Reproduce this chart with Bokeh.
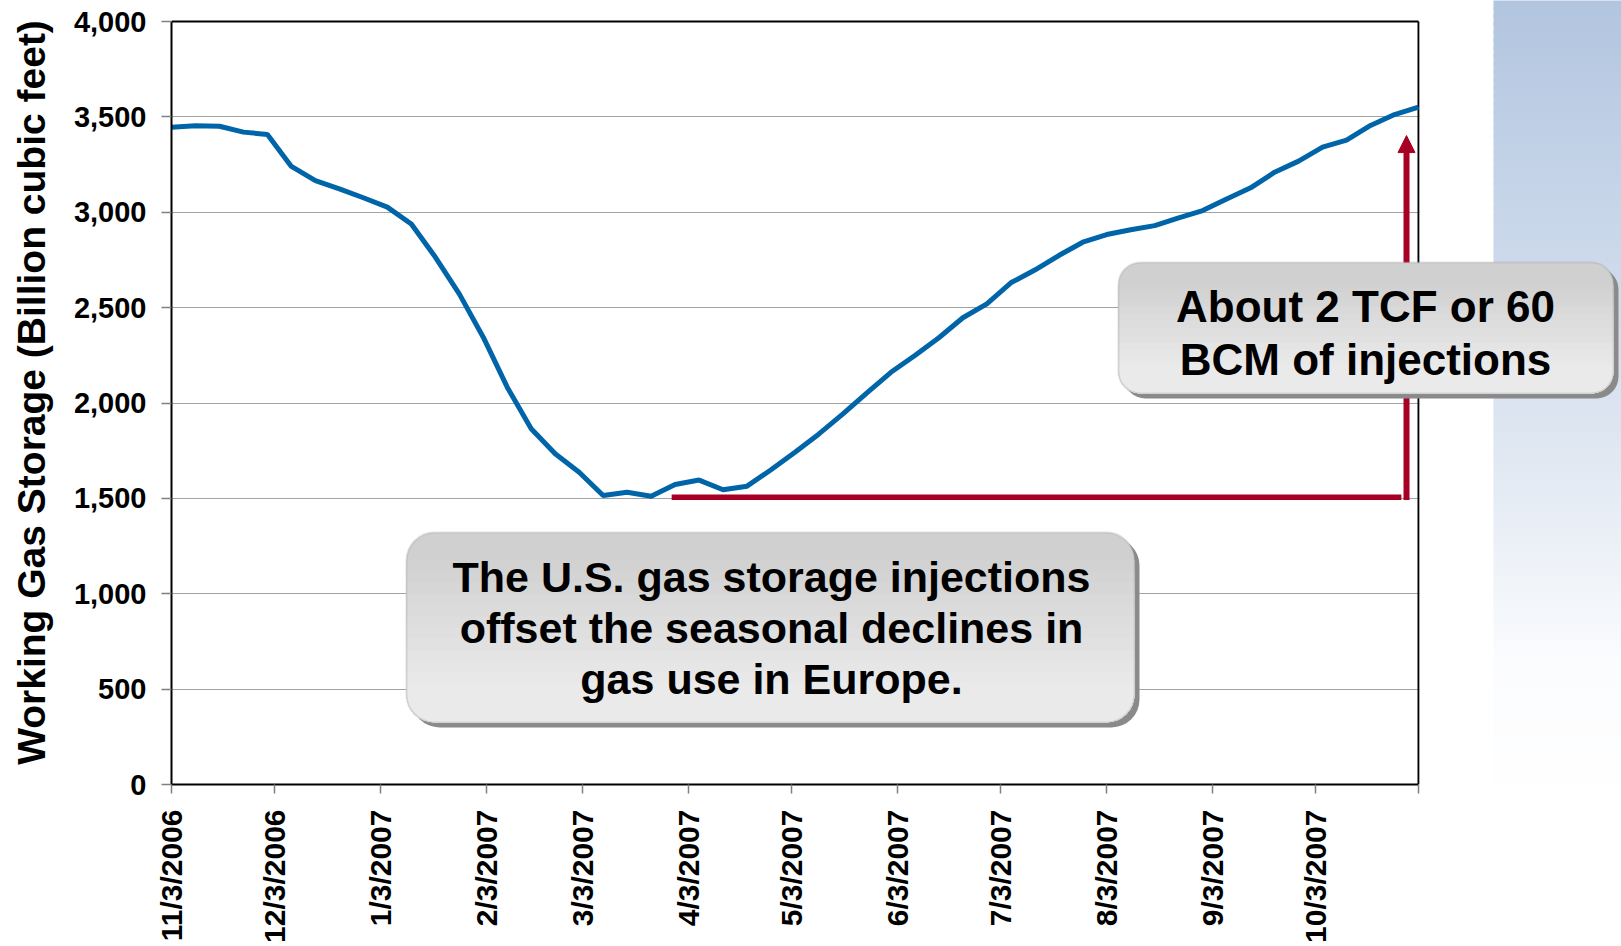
import math
import pandas as pd
from bokeh.plotting import figure
from bokeh.models import (Range1d, FixedTicker, NumeralTickFormatter,
                          BoxAnnotation, Label, Arrow, NormalHead)
from bokeh.embed import file_html
from bokeh.resources import INLINE

# ---------------- data ----------------
week_start = "2006-11-03"
storage_bcf = [3446, 3453, 3451, 3420, 3408, 3240, 3166, 3123, 3076, 3027,
               2938, 2765, 2572, 2345, 2083, 1865, 1734, 1637, 1515, 1532,
               1511, 1573, 1596, 1545, 1564, 1650, 1742, 1838, 1943, 2053,
               2161, 2249, 2342, 2447, 2520, 2630, 2697, 2773, 2843, 2883,
               2908, 2930, 2971, 3009, 3070, 3128, 3210, 3268, 3341, 3378,
               3455, 3512, 3551]
tick_dates = ["2006-11-03", "2006-12-03", "2007-01-03", "2007-02-03", "2007-03-03",
              "2007-04-03", "2007-05-03", "2007-06-03", "2007-07-03", "2007-08-03",
              "2007-09-03", "2007-10-03"]
tick_labels = ["11/3/2006", "12/3/2006", "1/3/2007", "2/3/2007", "3/3/2007",
               "4/3/2007", "5/3/2007", "6/3/2007", "7/3/2007", "8/3/2007",
               "9/3/2007", "10/3/2007"]
y_ticks = [0, 500, 1000, 1500, 2000, 2500, 3000, 3500, 4000]
y_min, y_max = 0, 4000
y_label = "Working Gas Storage (Billion cubic feet)"

injection_base = 1506
injection_top = 3402
base_line_start = "2007-03-29"
base_line_end = "2007-10-28"
arrow_date = "2007-10-29 12:00"

note_right = ["About 2 TCF or 60", "BCM of injections"]
note_left = ["The U.S. gas storage injections", "offset the seasonal declines in",
             "gas use in Europe."]

BLUE = "#0064A8"
RED = "#A80024"

# ---------------- helpers ----------------
dates = pd.date_range(week_start, periods=len(storage_bcf), freq="7D")


def ms(t):
    return pd.Timestamp(t).value / 1e6


x0 = ms(dates[0])
x1 = ms(dates[-1])

# pixel geometry of the chart area (used to place frame & annotations)
W, H = 1621, 946
FL, FR, FT, FB = 171, 1418, 21, 784


def dx(px):
    return x0 + (px - FL) / (FR - FL) * (x1 - x0)


def dy(py):
    return y_min + (FB - py) / (FB - FT) * (y_max - y_min)


def lerp(c0, c1, f):
    f = max(0.0, min(1.0, f))
    return "#%02x%02x%02x" % tuple(int(round(a + (b - a) * f)) for a, b in zip(c0, c1))


# ---------------- figure ----------------
# the frame reaches the right and top edge of the canvas so that the callout
# and the slide background can be drawn there; axes are bounded to the data box
p = figure(width=W, height=H, x_axis_type="datetime",
           x_range=Range1d(x0, dx(W)), y_range=Range1d(y_min, dy(0)),
           output_backend="svg", toolbar_location=None,
           min_border_left=FL, min_border_right=0,
           min_border_top=0, min_border_bottom=H - FB)
p.background_fill_color = "white"
p.border_fill_color = "white"
p.outline_line_color = None

FONT = "Liberation Sans"

# x axis
tick_ms = [ms(d) for d in tick_dates]
p.xaxis.bounds = (x0, x1)
p.xaxis.ticker = FixedTicker(ticks=tick_ms + [x1])
overrides = {t: lab for t, lab in zip(tick_ms, tick_labels)}
overrides[x1] = ""
p.xaxis.major_label_overrides = overrides
p.xaxis.major_label_orientation = math.pi / 2
p.xaxis.major_label_text_font = FONT
p.xaxis.major_label_text_font_style = "bold"
p.xaxis.major_label_text_font_size = "30px"
p.xaxis.major_label_text_color = "black"
p.xaxis.major_label_standoff = 16
p.xaxis.major_tick_out = 9
p.xaxis.major_tick_in = 0
p.xaxis.major_tick_line_color = "#808080"
p.xaxis.major_tick_line_width = 1.5
p.xaxis.minor_tick_line_color = None
p.xaxis.axis_line_color = "black"
p.xaxis.axis_line_width = 2

# y axis
p.yaxis.bounds = (y_min, y_max)
p.yaxis.ticker = FixedTicker(ticks=y_ticks)
p.yaxis.formatter = NumeralTickFormatter(format="0,0")
p.yaxis.major_label_text_font = FONT
p.yaxis.major_label_text_font_style = "bold"
p.yaxis.major_label_text_font_size = "29px"
p.yaxis.major_label_text_color = "black"
p.yaxis.major_label_standoff = 15
p.yaxis.major_tick_out = 10
p.yaxis.major_tick_in = 0
p.yaxis.major_tick_line_color = "#808080"
p.yaxis.major_tick_line_width = 1.5
p.yaxis.minor_tick_line_color = None
p.yaxis.axis_line_color = "black"
p.yaxis.axis_line_width = 2
p.yaxis.axis_label = y_label
p.yaxis.axis_label_text_font = FONT
p.yaxis.axis_label_text_font_style = "bold"
p.yaxis.axis_label_text_font_size = "39px"
p.yaxis.axis_label_text_color = "black"
p.yaxis.axis_label_standoff = 18

p.xgrid.grid_line_color = None
p.ygrid.ticker = FixedTicker(ticks=y_ticks[1:-1])
p.ygrid.grid_line_color = "#a3a3a3"
p.ygrid.grid_line_width = 1

# top and right edges of the plot box
p.segment(x0=[x0, x1], y0=[y_max, y_min], x1=[x1, x1], y1=[y_max, y_max],
          line_color="black", line_width=2)

# ---------------- data line ----------------
p.line(dates, storage_bcf, line_color=BLUE, line_width=5)

# ---------------- injection marker ----------------
p.segment(x0=[pd.Timestamp(base_line_start)], x1=[pd.Timestamp(base_line_end)],
          y0=[injection_base], y1=[injection_base], line_color=RED, line_width=5.5,
          line_cap="butt")

# white area right of the plot box
p.add_layout(BoxAnnotation(left=dx(FR + 1.2), right=dx(W + 50), top=dy(-50),
                           bottom=dy(H + 50), fill_color="white", fill_alpha=1,
                           line_color=None))

# slide background gradient on the far right
stops = [(0, (178, 197, 223)), (200, (199, 213, 233)), (420, (221, 229, 241)),
         (560, (238, 242, 248)), (660, (251, 252, 254)), (800, (255, 255, 255))]
band = 8
for yy in range(0, 800, band):
    for (ya, ca), (yb, cb) in zip(stops[:-1], stops[1:]):
        if ya <= yy < yb:
            c = lerp(ca, cb, (yy - ya) / (yb - ya))
            break
    p.add_layout(BoxAnnotation(left=dx(1493), right=dx(W + 50), top=dy(yy - 1),
                               bottom=dy(yy + band + 1), fill_color=c, fill_alpha=1,
                               line_color=None))

p.add_layout(Arrow(end=NormalHead(size=17, fill_color=RED, line_color=RED, line_width=1),
                   x_start=ms(arrow_date), y_start=injection_base - 14,
                   x_end=ms(arrow_date), y_end=injection_top,
                   line_color=RED, line_width=6))


# ---------------- callout boxes ----------------
def callout(l, t, r, b, rad, shadow=(5, 5)):
    p.add_layout(BoxAnnotation(left=dx(l + shadow[0]), right=dx(r + shadow[0]),
                               top=dy(t + shadow[1]), bottom=dy(b + shadow[1]),
                               fill_color="#8a8a8a", fill_alpha=1, line_color=None,
                               border_radius=rad))
    c_top = (208, 208, 208)
    c_bot = (234, 234, 234)
    p.add_layout(BoxAnnotation(left=dx(l), right=dx(r), top=dy(t), bottom=dy(b),
                               fill_color=lerp(c_top, c_bot, 0), fill_alpha=1,
                               line_color=None, border_radius=rad))
    n = 12
    ys, ye = t + rad, b - rad
    for i in range(n):
        yi = ys + (ye - ys) * i / n
        p.add_layout(BoxAnnotation(left=dx(l), right=dx(r), top=dy(yi), bottom=dy(b),
                                   fill_color=lerp(c_top, c_bot, (i + 1) / n),
                                   fill_alpha=1, line_color=None,
                                   border_radius=(0, 0, rad, rad)))
    p.add_layout(BoxAnnotation(left=dx(l), right=dx(r), top=dy(t), bottom=dy(b),
                               fill_alpha=0, line_color="#a0a0a0", line_width=2,
                               border_radius=rad))


callout(1118, 262, 1613, 393, 22)
callout(406, 532, 1134, 722, 28)

for txt, by in zip(note_right, [306, 359]):
    p.add_layout(Label(x=dx(1365), y=dy(by), text=txt, text_align="center",
                       text_baseline="alphabetic", text_font=FONT,
                       text_font_style="bold", text_font_size="44px",
                       text_color="black"))
for txt, by in zip(note_left, [576, 627, 678]):
    p.add_layout(Label(x=dx(771), y=dy(by), text=txt, text_align="center",
                       text_baseline="alphabetic", text_font=FONT,
                       text_font_style="bold", text_font_size="43px",
                       text_color="black"))

open("out.html", "w").write(file_html(p, INLINE))
